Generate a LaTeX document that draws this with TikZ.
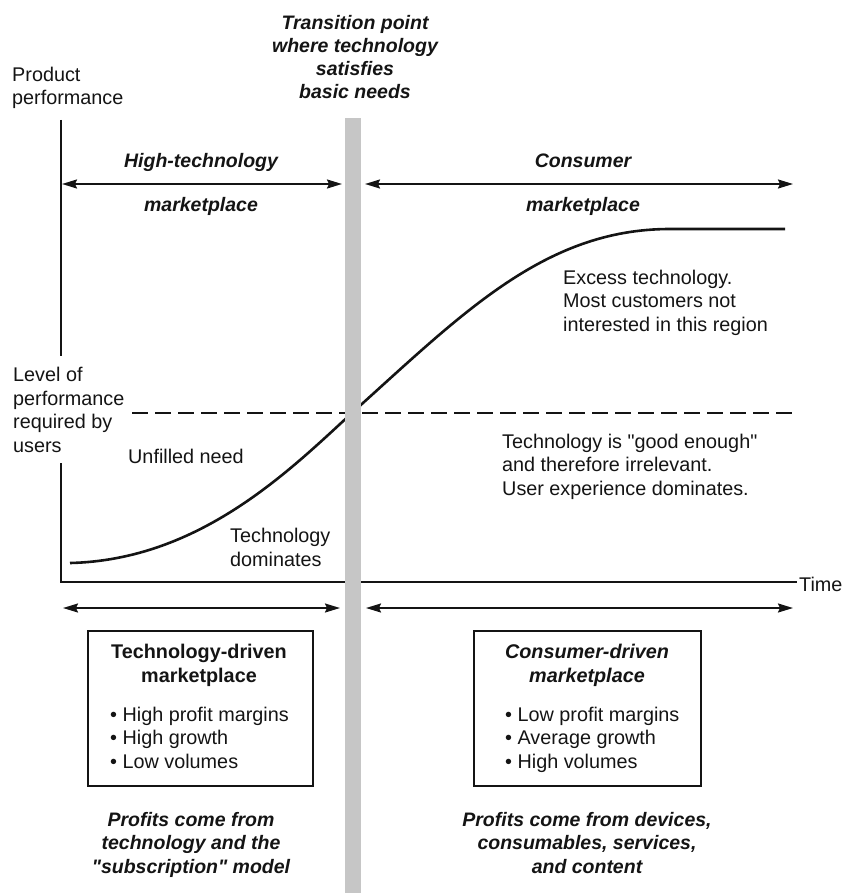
\documentclass[tikz,border=0pt]{standalone}
\usepackage{fontspec}
\setmainfont{Liberation Sans}[Ligatures=TeXOff]
\usetikzlibrary{arrows.meta}
\definecolor{barGray}{RGB}{198,198,198}
\definecolor{ink}{RGB}{20,20,20}
\begin{document}
\begin{tikzpicture}[x=1pt,y=-1pt,
  lbl/.style={inner sep=0pt, text=ink, align=left, font=\fontsize{19.8}{23.5}\selectfont},
  hdr/.style={inner sep=0pt, text=ink, align=center, font=\fontsize{19.5}{23.3}\selectfont\bfseries\itshape},
  axis/.style={draw=ink, line width=1.8pt},
  curve/.style={draw=ink, line width=2.6pt},
  reqline/.style={draw=ink, line width=1.4pt, dash pattern=on 16pt off 7pt},
  span/.style={draw=ink, line width=1.8pt, {Stealth[length=15pt,width=9pt,inset=2pt]}-{Stealth[length=15pt,width=9pt,inset=2pt]}},
  panel/.style={draw=ink, line width=1.6pt, minimum width=225pt, minimum height=155pt, inner sep=0pt, anchor=north west},
]
% page frame
\useasboundingbox (0,0) rectangle (843,893);

% title above the transition bar (base = last line)
\node[hdr, anchor=base] (title) at (355,99)
  {Transition point\\where technology\\satisfies\\basic needs};

% axes
\coordinate (yTop) at (61,120);
\coordinate (origin) at (61,582);
\coordinate (xEnd) at (797,582);
\draw[axis] (yTop) -- (origin) -- (xEnd);
\node[lbl, anchor=west] (time) at (799,584) {Time};
\node[lbl, anchor=base west] (yLabel) at (12,105) {Product\\performance};

% level of performance required by users
\coordinate (reqL) at (132,413);
\coordinate (reqR) at (793,413);
\draw[reqline] (reqL) -- (reqR);
\node[lbl, anchor=base west, fill=white, inner xsep=0pt, inner ysep=11pt] (reqLabel) at (13,452)
  {Level of\\performance\\required by\\users};

% technology performance over time
\coordinate (cStart) at (70,563);
\coordinate (cMid) at (353,412);
\coordinate (cKnee) at (670,229);
\coordinate (cEnd) at (785,229);
\draw[curve] (cStart) .. controls (200,560) and (290,470) .. (cMid)
  .. controls (463,313) and (545,229) .. (cKnee) -- (cEnd);

% region labels
\node[lbl, anchor=base west] (excess) at (563,331)
  {Excess technology.\\Most customers not\\interested in this region};
\node[lbl, anchor=base west] (enough) at (502,495)
  {Technology is "good enough"\\and therefore irrelevant.\\User experience dominates.};
\node[lbl, anchor=base west] (unfilled) at (128,463) {Unfilled need};
\node[lbl, anchor=base west] (techDom) at (230,566) {Technology\\dominates};

% marketplace spans (top)
\coordinate (htL) at (62,184);
\coordinate (htR) at (342,184);
\coordinate (cmL) at (365,184);
\coordinate (cmR) at (793,184);
\draw[span] (htL) -- (htR);
\draw[span] (cmL) -- (cmR);
\node[hdr, anchor=base] (htA) at (201,168) {High-technology};
\node[hdr, anchor=base] (htB) at (201,212) {marketplace};
\node[hdr, anchor=base] (cmA) at (583,168) {Consumer};
\node[hdr, anchor=base] (cmB) at (583,212) {marketplace};

% marketplace spans (bottom)
\coordinate (tdL) at (63,608);
\coordinate (tdR) at (340,608);
\coordinate (cdL) at (366,608);
\coordinate (cdR) at (793,608);
\draw[span] (tdL) -- (tdR);
\draw[span] (cdL) -- (cdR);

% technology-driven panel
\node[panel] (techBox) at (87,630) {};
\node[lbl, anchor=base, align=center, font=\fontsize{19.8}{24}\selectfont\bfseries] (techHead) at (199,682)
  {Technology-driven\\marketplace};
\node[lbl, anchor=base west] (techList) at (110,768)
  {\textbullet\ High profit margins\\\textbullet\ High growth\\\textbullet\ Low volumes};

% consumer-driven panel
\node[panel, minimum width=227pt] (consBox) at (473,630) {};
\node[lbl, anchor=base, align=center, font=\fontsize{19.8}{24}\selectfont\bfseries\itshape] (consHead) at (587,682)
  {Consumer-driven\\marketplace};
\node[lbl, anchor=base west] (consList) at (505,768)
  {\textbullet\ Low profit margins\\\textbullet\ Average growth\\\textbullet\ High volumes};

% profit sources
\node[hdr, anchor=base] (techProfit) at (191,873)
  {Profits come from\\technology and the\\"subscription" model};
\node[hdr, anchor=base] (consProfit) at (587,873)
  {Profits come from devices,\\consumables, services,\\and content};

% transition bar, drawn over everything it crosses
\node[fill=barGray, inner sep=0pt, minimum width=16pt, minimum height=775pt, anchor=north] (bar) at (353,118) {};
\end{tikzpicture}
\end{document}
